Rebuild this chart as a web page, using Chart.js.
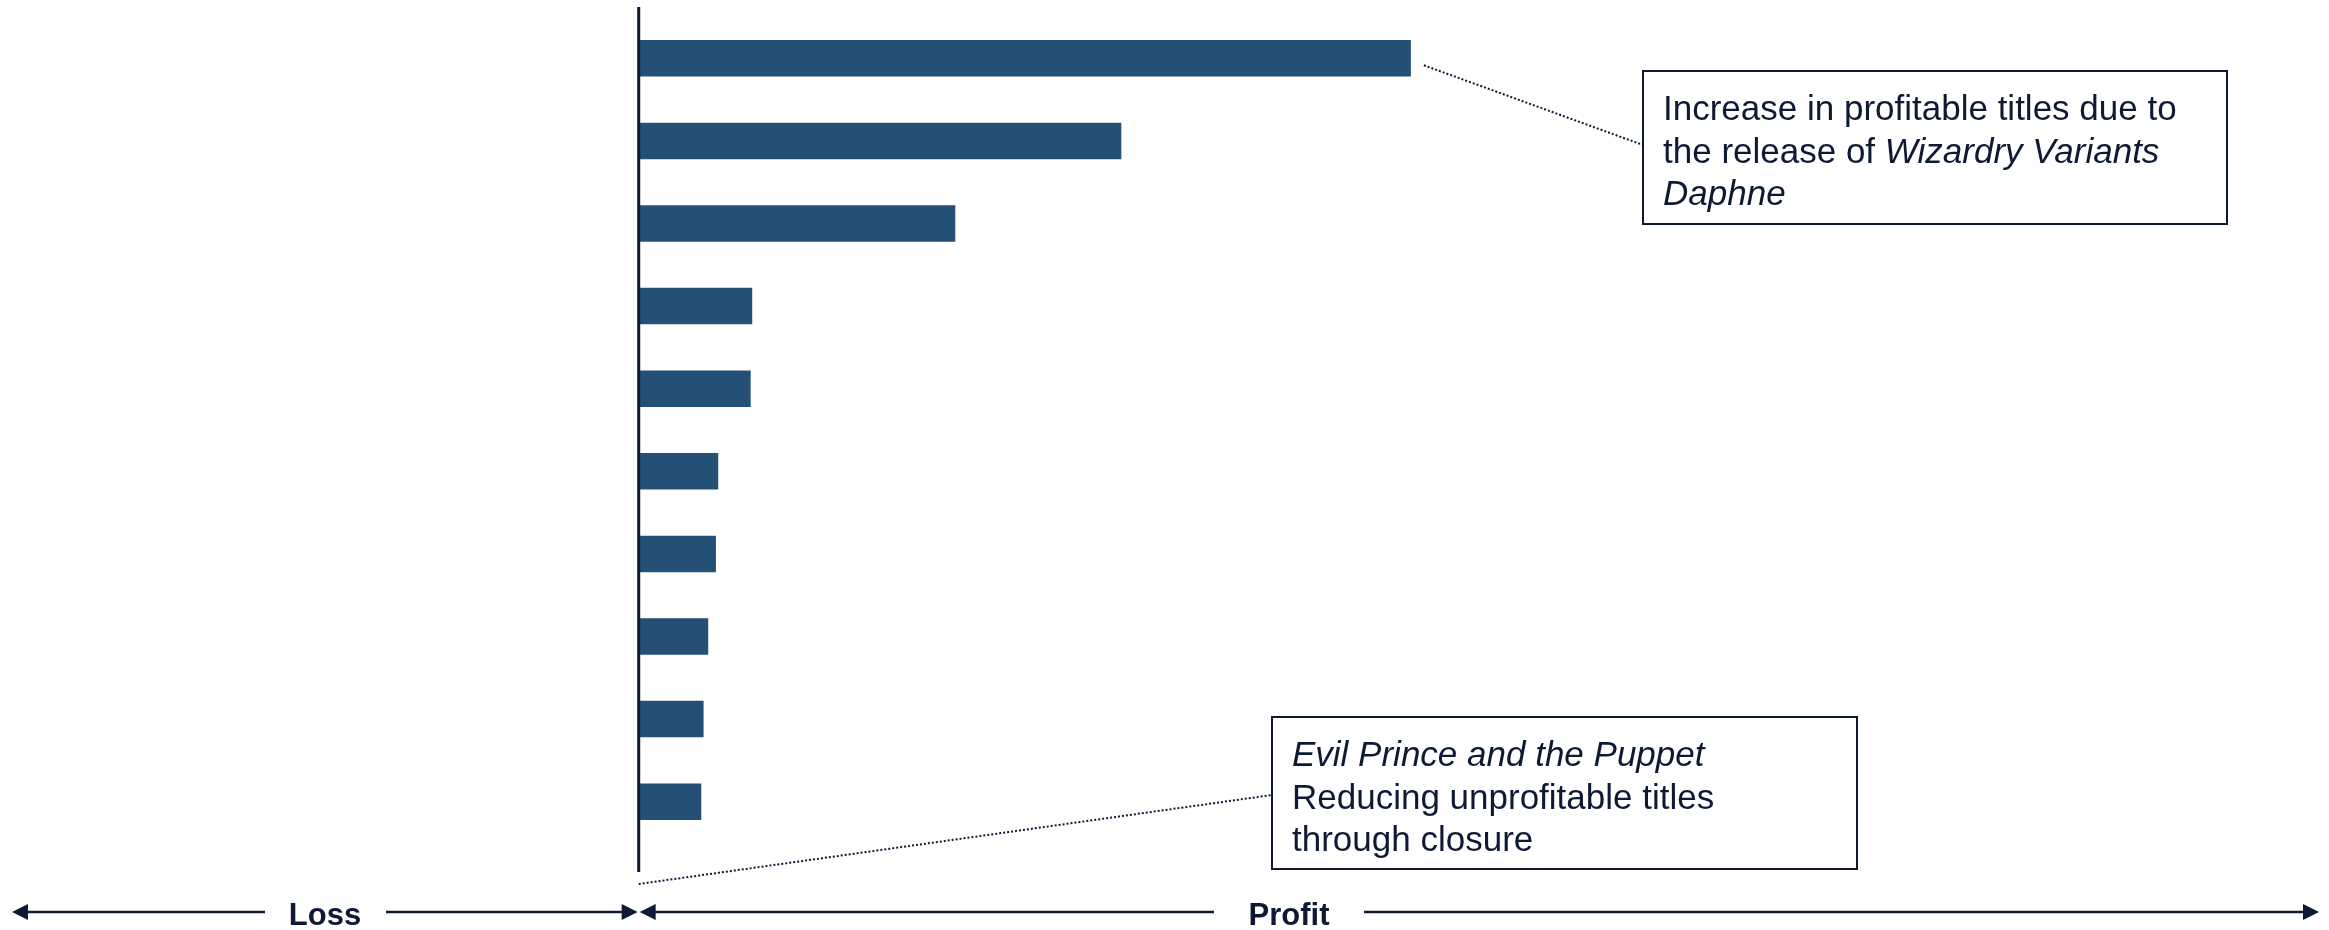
<!DOCTYPE html>
<html>
<head>
<meta charset="utf-8">
<script src="https://cdn.jsdelivr.net/npm/chart.js@4.4.1/dist/chart.umd.min.js"></script>
<style>
    html, body { margin: 0; padding: 0; background: #ffffff; overflow: hidden; }
    #wrap { position: relative; width: 2329px; height: 930px; }
</style>
</head>
<body>
<div id="wrap"><canvas id="chartTitles"></canvas></div>
<script>
// data (relative profit, top title = 100)
const titleLabels = ["Title 1", "Title 2", "Title 3", "Title 4", "Title 5",
                     "Title 6", "Title 7", "Title 8", "Title 9", "Title 10"];
const profitValues = [100, 62.5, 41.0, 14.7, 14.5, 10.3, 10.0, 9.0, 8.4, 8.1];
const axisMin = -80;
const axisMax = 218;

const topNote = [
    [{ t: "Increase in profitable titles due to", i: false }],
    [{ t: "the release of ", i: false }, { t: "Wizardry Variants", i: true }],
    [{ t: "Daphne", i: true }]
];
const bottomNote = [
    [{ t: "Evil Prince and the Puppet", i: true }],
    [{ t: "Reducing unprofitable titles", i: false }],
    [{ t: "through closure", i: false }]
];
const lossLabel = "Loss";
const profitLabel = "Profit";

const navy = "#0e1a33";
const barColor = "#245076";
const fontName = "'Liberation Sans', Arial, sans-serif";

// draw one text box with mixed italic runs
const drawNote = (ctx, lines, box) => {
    ctx.save();
    ctx.fillStyle = "#ffffff";
    ctx.fillRect(box.x, box.y, box.w, box.h);
    ctx.strokeStyle = navy;
    ctx.lineWidth = 2;
    ctx.strokeRect(box.x, box.y, box.w, box.h);
    ctx.fillStyle = navy;
    ctx.textBaseline = "alphabetic";
    lines.forEach((runs, n) => {
        let x = box.x + 20;
        const y = box.y + 49 + n * 42.5;
        runs.forEach(run => {
            ctx.font = (run.i ? "italic " : "") + "35px " + fontName;
            ctx.fillText(run.t, x, y);
            x += ctx.measureText(run.t).width;
        });
    });
    ctx.restore();
};

const arrowHead = (ctx, tipX, y, dir) => {
    ctx.beginPath();
    ctx.moveTo(tipX, y);
    ctx.lineTo(tipX - dir * 16, y - 8);
    ctx.lineTo(tipX - dir * 16, y + 8);
    ctx.closePath();
    ctx.fill();
};

const dotted = (ctx, x1, y1, x2, y2) => {
    ctx.save();
    ctx.strokeStyle = navy;
    ctx.lineWidth = 2;
    ctx.setLineDash([2, 2]);
    ctx.beginPath();
    ctx.moveTo(x1, y1);
    ctx.lineTo(x2, y2);
    ctx.stroke();
    ctx.restore();
};

const decorPlugin = {
    id: "decor",
    afterDatasetsDraw(chart) {
        const ctx = chart.ctx;
        const xs = chart.scales.x;
        const ys = chart.scales.y;
        const x0 = xs.getPixelForValue(0);

        // zero line
        ctx.save();
        ctx.strokeStyle = navy;
        ctx.lineWidth = 3;
        ctx.beginPath();
        ctx.moveTo(x0, 7);
        ctx.lineTo(x0, 872);
        ctx.stroke();
        ctx.restore();

        // leader lines
        const topBarEnd = xs.getPixelForValue(profitValues[0]);
        const topBarY = ys.getPixelForValue(0);
        dotted(ctx, topBarEnd + 13, topBarY + 7, 1643, 145);
        dotted(ctx, x0, 884, 1272, 795);

        drawNote(ctx, topNote, { x: 1643, y: 71, w: 584, h: 153 });
        drawNote(ctx, bottomNote, { x: 1272, y: 717, w: 585, h: 152 });

        // loss / profit arrows
        const ay = 912;
        ctx.save();
        ctx.strokeStyle = navy;
        ctx.fillStyle = navy;
        ctx.lineWidth = 2.5;
        ctx.beginPath();
        ctx.moveTo(20, ay); ctx.lineTo(265, ay);
        ctx.moveTo(386, ay); ctx.lineTo(x0 - 10, ay);
        ctx.moveTo(x0 + 10, ay); ctx.lineTo(1214, ay);
        ctx.moveTo(1364, ay); ctx.lineTo(2308, ay);
        ctx.stroke();
        arrowHead(ctx, 12, ay, -1);
        arrowHead(ctx, x0 - 1, ay, 1);
        arrowHead(ctx, x0 + 1, ay, -1);
        arrowHead(ctx, 2319, ay, 1);

        ctx.font = "bold 31px " + fontName;
        ctx.textAlign = "center";
        ctx.textBaseline = "alphabetic";
        ctx.fillText(lossLabel, 325, 925);
        ctx.fillText(profitLabel, 1289, 925);
        ctx.restore();
    }
};

const chartTitles = new Chart(document.getElementById("chartTitles"), {
    type: "bar",
    data: {
        labels: titleLabels,
        datasets: [{
            label: "Profit",
            data: profitValues,
            backgroundColor: barColor,
            borderWidth: 0,
            barPercentage: 0.442,
            categoryPercentage: 1
        }]
    },
    options: {
        indexAxis: "y",
        responsive: true,
        maintainAspectRatio: false,
        animation: false,
        layout: { padding: { left: 21, right: 7, top: 17, bottom: 87 } },
        scales: {
            x: { type: "linear", min: axisMin, max: axisMax, display: false, grid: { display: false } },
            y: { display: false, grid: { display: false } }
        },
        plugins: {
            legend: { display: false },
            tooltip: { enabled: false }
        }
    },
    plugins: [decorPlugin]
});
</script>
</body>
</html>
